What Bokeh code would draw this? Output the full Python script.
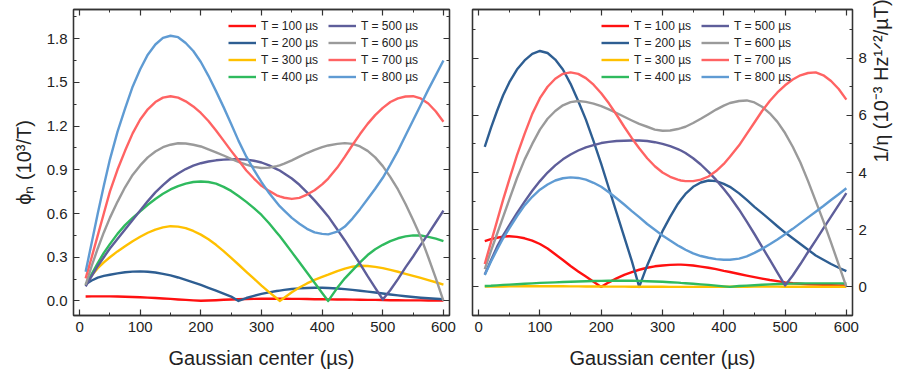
import math
from bokeh.plotting import figure
from bokeh.layouts import row
from bokeh.models import (LinearAxis, SingleIntervalTicker, PrintfTickFormatter, Legend,
                          LegendItem, Range1d, CustomJSTickFormatter)
from bokeh.embed import file_html
from bokeh.resources import INLINE

# ---------------- data ----------------
gauss_center = [10, 20, 30, 40, 50, 62.5, 75, 87.5, 100, 112.5,
                125, 137.5, 150, 162.5, 175, 187.5, 200, 212.5, 225, 237.5,
                250, 262, 275, 287.5, 300, 312.5, 325, 330, 337.5, 350,
                362.5, 375, 387.5, 400, 410, 425, 437.5, 450, 462.5, 475,
                487.5, 500, 512.5, 525, 537.5, 550, 562.5, 575, 587.5, 600]

series_labels = ["T = 100 µs", "T = 200 µs", "T = 300 µs", "T = 400 µs",
                 "T = 500 µs", "T = 600 µs", "T = 700 µs", "T = 800 µs"]
series_colors = ["#FF1010", "#2E5E92", "#FFC000", "#2FBA5E",
                 "#5E5E9A", "#9A9A9A", "#FF6363", "#5F9BD3"]

# left panel: phi_n (10^3 / T)
phi_100 = [0.030, 0.031, 0.031, 0.031, 0.031, 0.030, 0.029, 0.027, 0.025, 0.023,
           0.020, 0.017, 0.014, 0.010, 0.007, 0.004, 0.001, 0.003, 0.005, 0.008,
           0.010, 0.012, 0.013, 0.014, 0.015, 0.015, 0.015, 0.015, 0.015, 0.014,
           0.014, 0.013, 0.012, 0.012, 0.011, 0.010, 0.010, 0.009, 0.008, 0.007,
           0.007, 0.006, 0.005, 0.005, 0.004, 0.004, 0.004, 0.003, 0.003, 0.003]
phi_200 = [0.115, 0.140, 0.160, 0.172, 0.180, 0.189, 0.197, 0.201, 0.203, 0.200,
           0.195, 0.186, 0.175, 0.161, 0.145, 0.128, 0.110, 0.090, 0.070, 0.050,
           0.030, 0.000, 0.020, 0.035, 0.048, 0.059, 0.068, 0.071, 0.076, 0.082,
           0.086, 0.089, 0.090, 0.090, 0.089, 0.085, 0.081, 0.076, 0.070, 0.064,
           0.058, 0.051, 0.044, 0.038, 0.032, 0.027, 0.022, 0.018, 0.015, 0.012]
phi_300 = [0.110, 0.175, 0.225, 0.265, 0.300, 0.340, 0.375, 0.410, 0.440, 0.468,
           0.490, 0.505, 0.513, 0.510, 0.500, 0.480, 0.455, 0.423, 0.385, 0.342,
           0.295, 0.250, 0.200, 0.153, 0.105, 0.060, 0.018, 0.000, 0.022, 0.060,
           0.092, 0.120, 0.145, 0.165, 0.180, 0.205, 0.222, 0.235, 0.241, 0.240,
           0.234, 0.225, 0.213, 0.200, 0.186, 0.172, 0.158, 0.143, 0.128, 0.112]
phi_400 = [0.110, 0.185, 0.260, 0.330, 0.390, 0.460, 0.520, 0.570, 0.615, 0.660,
           0.700, 0.735, 0.765, 0.788, 0.805, 0.816, 0.820, 0.816, 0.805, 0.783,
           0.755, 0.720, 0.680, 0.637, 0.590, 0.533, 0.470, 0.445, 0.405, 0.335,
           0.265, 0.195, 0.125, 0.055, 0.000, 0.090, 0.155, 0.210, 0.265, 0.315,
           0.355, 0.385, 0.410, 0.430, 0.443, 0.450, 0.449, 0.440, 0.427, 0.410]
phi_500 = [0.100, 0.170, 0.240, 0.300, 0.360, 0.425, 0.490, 0.555, 0.620, 0.685,
           0.745, 0.795, 0.840, 0.875, 0.905, 0.928, 0.945, 0.957, 0.965, 0.970,
           0.972, 0.973, 0.970, 0.962, 0.950, 0.930, 0.905, 0.895, 0.875, 0.840,
           0.797, 0.745, 0.690, 0.630, 0.580, 0.490, 0.415, 0.335, 0.255, 0.170,
           0.090, 0.010, 0.075, 0.150, 0.230, 0.305, 0.385, 0.460, 0.540, 0.620]
phi_600 = [0.110, 0.240, 0.360, 0.470, 0.570, 0.680, 0.780, 0.865, 0.930, 0.985,
           1.025, 1.055, 1.072, 1.082, 1.080, 1.072, 1.060, 1.040, 1.020, 0.998,
           0.975, 0.955, 0.935, 0.920, 0.912, 0.915, 0.925, 0.930, 0.942, 0.965,
           0.990, 1.015, 1.037, 1.055, 1.067, 1.078, 1.083, 1.078, 1.060, 1.030,
           0.985, 0.925, 0.850, 0.765, 0.665, 0.555, 0.440, 0.300, 0.155, 0.000]
phi_700 = [0.155, 0.300, 0.450, 0.600, 0.750, 0.900, 1.030, 1.150, 1.245, 1.315,
           1.365, 1.395, 1.405, 1.395, 1.370, 1.335, 1.290, 1.235, 1.170, 1.100,
           1.030, 0.965, 0.895, 0.840, 0.790, 0.755, 0.725, 0.717, 0.708, 0.700,
           0.707, 0.730, 0.760, 0.800, 0.840, 0.915, 0.990, 1.070, 1.145, 1.215,
           1.275, 1.325, 1.365, 1.390, 1.403, 1.405, 1.390, 1.355, 1.300, 1.230]
phi_800 = [0.200, 0.400, 0.600, 0.790, 0.970, 1.160, 1.320, 1.470, 1.590, 1.690,
           1.760, 1.805, 1.820, 1.810, 1.770, 1.715, 1.640, 1.545, 1.440, 1.330,
           1.215, 1.100, 0.990, 0.900, 0.815, 0.740, 0.675, 0.650, 0.620, 0.570,
           0.530, 0.495, 0.470, 0.460, 0.457, 0.475, 0.510, 0.565, 0.630, 0.700,
           0.770, 0.845, 0.935, 1.030, 1.135, 1.240, 1.345, 1.450, 1.550, 1.650]

# right panel: 1/eta (10^-3 Hz^1/2 / uT)
eta_100 = [1.60, 1.67, 1.72, 1.76, 1.77, 1.75, 1.70, 1.62, 1.50, 1.34,
           1.14, 0.94, 0.73, 0.54, 0.36, 0.18, 0.00, 0.16, 0.30, 0.42,
           0.52, 0.60, 0.67, 0.72, 0.75, 0.77, 0.78, 0.78, 0.77, 0.75,
           0.71, 0.67, 0.62, 0.56, 0.52, 0.45, 0.395, 0.34, 0.29, 0.24,
           0.20, 0.16, 0.13, 0.11, 0.09, 0.08, 0.07, 0.06, 0.055, 0.05]
eta_200 = [4.90, 5.55, 6.15, 6.70, 7.15, 7.60, 7.92, 8.15, 8.25, 8.18,
           7.95, 7.60, 7.10, 6.50, 5.85, 5.10, 4.30, 3.45, 2.60, 1.75,
           0.90, 0.00, 0.75, 1.37, 1.95, 2.45, 2.90, 3.05, 3.25, 3.50,
           3.65, 3.72, 3.70, 3.60, 3.50, 3.27, 3.04, 2.80, 2.58, 2.35,
           2.12, 1.90, 1.70, 1.50, 1.30, 1.10, 0.95, 0.80, 0.67, 0.55]
eta_300 = [0.010, 0.012, 0.014, 0.016, 0.018, 0.020, 0.022, 0.024, 0.025, 0.025,
           0.024, 0.022, 0.020, 0.018, 0.016, 0.014, 0.012, 0.010, 0.009, 0.008,
           0.006, 0.005, 0.004, 0.003, 0.003, 0.002, 0.001, 0.000, 0.001, 0.002,
           0.003, 0.004, 0.005, 0.006, 0.006, 0.007, 0.007, 0.008, 0.008, 0.008,
           0.008, 0.007, 0.007, 0.006, 0.006, 0.005, 0.005, 0.004, 0.004, 0.003]
eta_400 = [0.030, 0.040, 0.055, 0.070, 0.080, 0.095, 0.110, 0.125, 0.140, 0.150,
           0.160, 0.170, 0.180, 0.190, 0.200, 0.205, 0.210, 0.213, 0.215, 0.215,
           0.215, 0.210, 0.200, 0.190, 0.180, 0.165, 0.150, 0.140, 0.130, 0.110,
           0.090, 0.070, 0.045, 0.020, 0.000, 0.030, 0.045, 0.060, 0.075, 0.090,
           0.100, 0.110, 0.115, 0.120, 0.123, 0.125, 0.125, 0.125, 0.123, 0.120]
eta_500 = [0.43, 0.92, 1.40, 1.80, 2.15, 2.58, 2.98, 3.36, 3.70, 4.00,
           4.25, 4.46, 4.63, 4.77, 4.88, 4.96, 5.03, 5.07, 5.10, 5.11,
           5.12, 5.12, 5.10, 5.06, 5.00, 4.92, 4.82, 4.77, 4.68, 4.50,
           4.28, 4.02, 3.74, 3.42, 3.15, 2.70, 2.28, 1.85, 1.40, 0.95,
           0.50, 0.05, 0.40, 0.80, 1.22, 1.63, 2.05, 2.46, 2.87, 3.28]
eta_600 = [0.62, 1.25, 1.85, 2.45, 3.05, 3.80, 4.45, 5.00, 5.50, 5.88,
           6.15, 6.35, 6.46, 6.50, 6.47, 6.41, 6.32, 6.21, 6.08, 5.95,
           5.82, 5.70, 5.60, 5.50, 5.46, 5.47, 5.52, 5.55, 5.60, 5.73,
           5.88, 6.04, 6.20, 6.34, 6.43, 6.50, 6.52, 6.45, 6.30, 6.07,
           5.77, 5.38, 4.90, 4.35, 3.70, 3.00, 2.30, 1.55, 0.78, 0.00]
eta_700 = [0.80, 1.55, 2.30, 3.05, 3.75, 4.60, 5.35, 6.05, 6.60, 7.00,
           7.28, 7.45, 7.50, 7.45, 7.30, 7.07, 6.77, 6.42, 6.02, 5.60,
           5.20, 4.85, 4.50, 4.22, 4.00, 3.85, 3.75, 3.72, 3.70, 3.70,
           3.75, 3.86, 4.05, 4.30, 4.55, 4.95, 5.35, 5.75, 6.15, 6.50,
           6.80, 7.05, 7.25, 7.40, 7.48, 7.50, 7.40, 7.20, 6.92, 6.55]
eta_800 = [0.42, 0.88, 1.30, 1.70, 2.05, 2.47, 2.85, 3.15, 3.40, 3.58,
           3.72, 3.80, 3.83, 3.81, 3.75, 3.64, 3.50, 3.31, 3.10, 2.88,
           2.65, 2.44, 2.20, 2.00, 1.80, 1.62, 1.45, 1.39, 1.30, 1.17,
           1.08, 1.02, 0.97, 0.95, 0.95, 0.99, 1.07, 1.19, 1.33, 1.49,
           1.66, 1.84, 2.03, 2.23, 2.43, 2.63, 2.83, 3.04, 3.24, 3.45]

phi_series = [phi_100, phi_200, phi_300, phi_400, phi_500, phi_600, phi_700, phi_800]
eta_series = [eta_100, eta_200, eta_300, eta_400, eta_500, eta_600, eta_700, eta_800]

x_ticks_interval = 100
phi_ticks_interval = 0.3
eta_ticks_interval = 2

# ---------------- styling helpers ----------------
FONT = "Liberation Sans"
AX_COLOR = "#333333"


def style_axis(ax, labels=True):
    ax.major_tick_in = 6
    ax.major_tick_out = 0
    ax.minor_tick_in = 3
    ax.minor_tick_out = 0
    ax.axis_line_color = AX_COLOR
    ax.axis_line_width = 1.3
    ax.major_tick_line_color = AX_COLOR
    ax.major_tick_line_width = 1.2
    ax.minor_tick_line_color = AX_COLOR
    ax.minor_tick_line_width = 1.0
    ax.major_label_text_font = FONT
    ax.major_label_text_font_size = "15px"
    ax.major_label_text_color = "#222222"
    ax.major_label_standoff = 6
    ax.axis_label_text_font = FONT
    ax.axis_label_text_font_size = "20px"
    ax.axis_label_text_font_style = "normal"
    ax.axis_label_text_color = "#222222"
    if not labels:
        ax.formatter = CustomJSTickFormatter(code="return ''")


def make_panel(width, border_left, border_right, y_start, y_end, y_interval, y_fmt,
               series, y_label, y_side, legend_x):
    p = figure(width=width, height=372, output_backend="svg", toolbar_location=None,
               x_axis_location=None, y_axis_location=None,
               min_border_left=border_left, min_border_right=border_right,
               min_border_top=9, min_border_bottom=57)
    p.x_range = Range1d(-10, 610)
    p.y_range = Range1d(y_start, y_end)
    p.xgrid.visible = False
    p.ygrid.visible = False
    p.outline_line_color = AX_COLOR
    p.outline_line_width = 1.3
    p.background_fill_color = "white"
    p.border_fill_color = "white"

    renderers = []
    for ys, c in zip(series, series_colors):
        r = p.line(gauss_center, ys, line_color=c, line_width=2.4, line_join="round")
        renderers.append(r)

    xt = SingleIntervalTicker(interval=x_ticks_interval, num_minor_ticks=2)
    yt = SingleIntervalTicker(interval=y_interval, num_minor_ticks=2)

    xb = LinearAxis(ticker=xt, axis_label="Gaussian center (µs)")
    style_axis(xb)
    xb.axis_label_standoff = 12
    p.add_layout(xb, "below")
    xa = LinearAxis(ticker=xt)
    style_axis(xa, labels=False)
    p.add_layout(xa, "above")

    ylab = LinearAxis(ticker=yt, axis_label=y_label, formatter=PrintfTickFormatter(format=y_fmt))
    style_axis(ylab)
    ylab.axis_label_standoff = 9
    ymir = LinearAxis(ticker=yt)
    style_axis(ymir, labels=False)
    if y_side == "left":
        p.add_layout(ylab, "left")
        p.add_layout(ymir, "right")
    else:
        p.add_layout(ylab, "right")
        p.add_layout(ymir, "left")

    items = [LegendItem(label=lab, renderers=[r]) for lab, r in zip(series_labels, renderers)]
    leg = Legend(items=items, location=(legend_x, 230), orientation="vertical", nrows=4,
                 glyph_width=28, glyph_height=17, label_height=17, label_width=67,
                 label_standoff=5, spacing=0, padding=0, margin=0,
                 border_line_color=None, background_fill_alpha=0,
                 label_text_font=FONT, label_text_font_size="12px", label_text_color="#222222")
    p.add_layout(leg)
    return p, ylab


p1, _ = make_panel(464, 73, 15, -0.1, 2.0, phi_ticks_interval, "%.1f", phi_series,
                   "ϕₙ (10³/T)", "left", 155)
p2, yr = make_panel(441, 8, 49, -1.0, 9.7, eta_ticks_interval, "%d", eta_series,
                    "1/η (10⁻³ Hz¹ᐟ²/µT)", "right", 129)
yr.axis_label_standoff = 11
if "axis_label_orientation" in yr.properties():
    yr.axis_label_orientation = math.pi / 2

layout = row(p1, p2)
open("out.html", "w").write(file_html(layout, INLINE))
